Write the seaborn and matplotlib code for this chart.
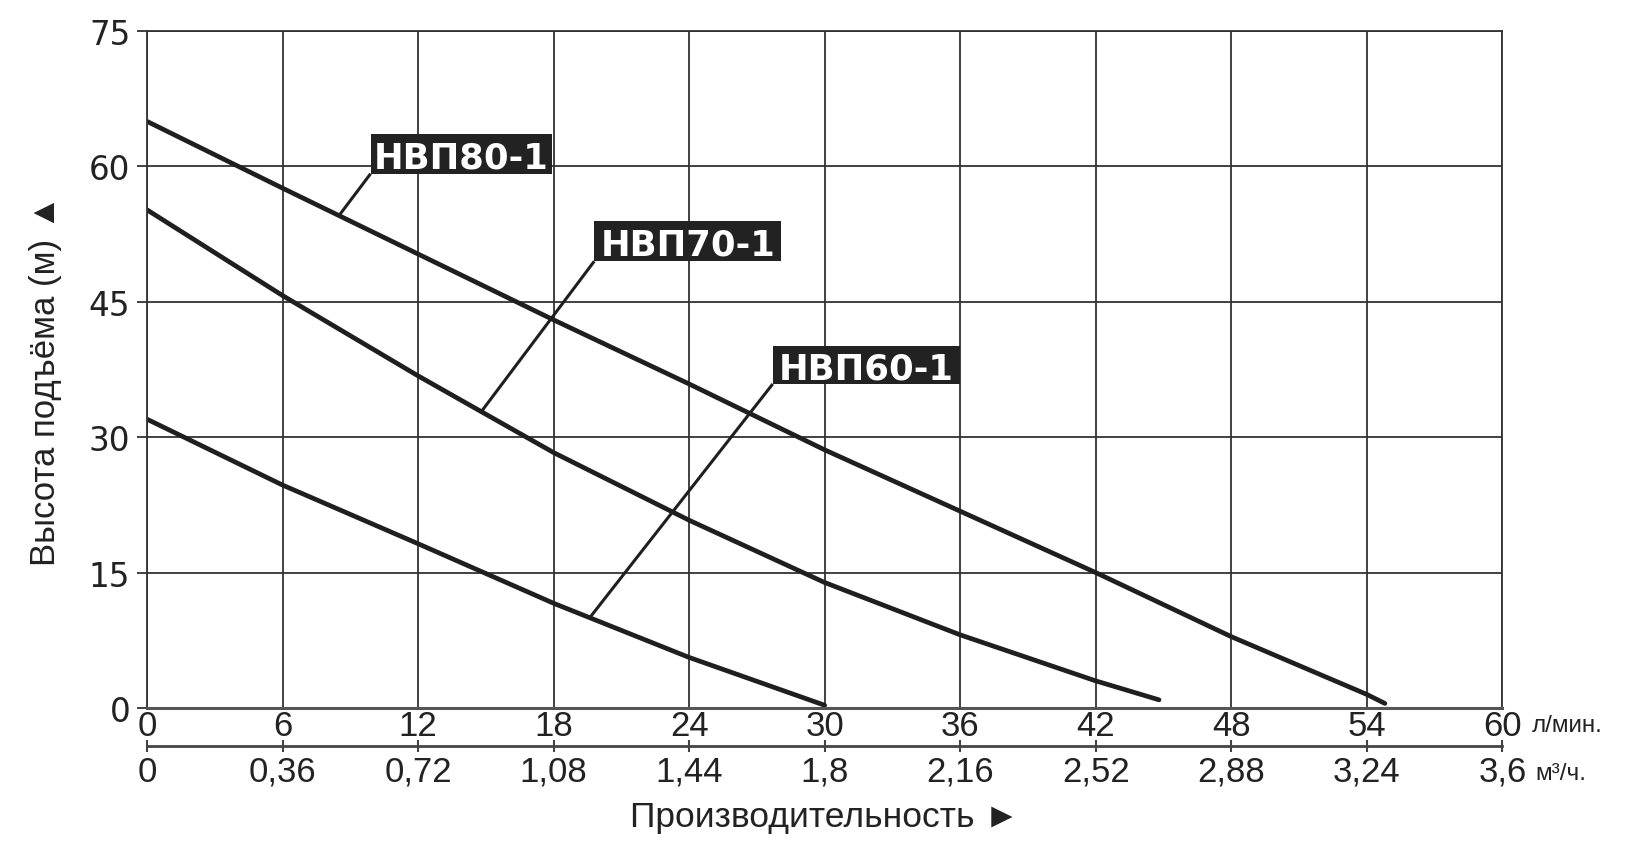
import numpy as np
import pandas as pd
import matplotlib
matplotlib.use("Agg")
import matplotlib.pyplot as plt
from matplotlib.patches import Rectangle
import seaborn as sns

# ---- data ----
pumps = ["НВП80-1", "НВП70-1", "НВП60-1"]
flow80 = [0, 6, 12, 18, 24, 30, 36, 42, 48, 54, 54.8]
head80 = [65.0, 57.6, 50.3, 43.0, 35.9, 28.6, 21.8, 15.0, 7.9, 1.5, 0.5]
flow70 = [0, 6, 12, 18, 24, 30, 36, 42, 44.8]
head70 = [55.2, 45.7, 36.8, 28.3, 20.8, 13.9, 8.1, 3.0, 0.9]
flow60 = [0, 6, 12, 18, 24, 30]
head60 = [32.0, 24.7, 18.2, 11.6, 5.6, 0.3]

x_ticks = [0, 6, 12, 18, 24, 30, 36, 42, 48, 54, 60]
x_tick_labels = ["0", "6", "12", "18", "24", "30", "36", "42", "48", "54", "60"]
m3_ticks = [0, 0.36, 0.72, 1.08, 1.44, 1.8, 2.16, 2.52, 2.88, 3.24, 3.6]
m3_tick_labels = ["0", "0,36", "0,72", "1,08", "1,44", "1,8", "2,16", "2,52", "2,88", "3,24", "3,6"]
y_ticks = [0, 15, 30, 45, 60, 75]
y_tick_labels = ["0", "15", "30", "45", "60", "75"]

df = pd.concat([
    pd.DataFrame({"flow": flow80, "head": head80, "pump": pumps[0]}),
    pd.DataFrame({"flow": flow70, "head": head70, "pump": pumps[1]}),
    pd.DataFrame({"flow": flow60, "head": head60, "pump": pumps[2]}),
], ignore_index=True)

sns.set_theme(style="white")
plt.rcParams["font.family"] = ["Liberation Sans", "DejaVu Sans"]

ink = "#1f1f1f"
fig = plt.figure(figsize=(16.33, 8.45), dpi=100)
ax = fig.add_axes([0.090, 0.161, 0.830, 0.801])

sns.lineplot(data=df, x="flow", y="head", hue="pump", palette=[ink] * 3,
             legend=False, ax=ax, lw=3.4, sort=False, estimator=None)

ax.set_xlim(0, 60)
ax.set_ylim(0, 75)
ax.set_xticks(x_ticks)
ax.set_xticklabels(x_tick_labels, fontsize=25, color="#222")
ax.set_yticks(y_ticks)
ax.set_yticklabels(y_tick_labels, fontsize=23.5, color="#222", family=["DejaVu Sans"])
ax.grid(True, color="#333333", lw=1.3)
ax.set_axisbelow(True)
for s in ["top", "right", "left"]:
    ax.spines[s].set_color("#333333")
    ax.spines[s].set_linewidth(1.3)
ax.spines["bottom"].set_color("#555555")
ax.spines["bottom"].set_linewidth(2.2)
ax.tick_params(axis="x", length=0, pad=1)
ax.tick_params(axis="y", length=7, width=1.3, color="#333333", pad=5, direction="out", left=True)

# secondary axis in m3/h
sec = ax.secondary_xaxis(-0.056, functions=(lambda v: v * 0.06, lambda v: v / 0.06))
sec.set_xticks(m3_ticks)
sec.set_xticklabels(m3_tick_labels, fontsize=25, color="#222")
sec.spines["bottom"].set_color("#444444")
sec.spines["bottom"].set_linewidth(2.0)
sec.tick_params(axis="x", direction="inout", length=9, width=1.5, color="#444444", pad=2)

ax.text(1.0215, -0.025, "л/мин.", transform=ax.transAxes, fontsize=17.5,
        ha="left", va="center", color="#222")
ax.text(1.0245, -0.096, "м³/ч.", transform=ax.transAxes, fontsize=17.5,
        ha="left", va="center", color="#222")

ax.set_xlabel("Производительность ►", fontsize=25.5, color="#222")
ax.xaxis.label.set_va("center")
ax.xaxis.set_label_coords(0.5, -0.161)
ax.set_ylabel("Высота подъёма (м) ▲", fontsize=25, color="#222")
ax.yaxis.label.set_va("center")
ax.yaxis.set_label_coords(-0.0745, 0.485)

# label boxes with leader lines
series = {pumps[0]: (flow80, head80), pumps[1]: (flow70, head70), pumps[2]: (flow60, head60)}
boxes = {
    pumps[0]: ((9.9, 59.2), 8.05, 4.4, 8.5),
    pumps[1]: ((19.8, 49.5), 8.27, 4.5, 14.8),
    pumps[2]: ((27.7, 35.9), 8.30, 4.2, 19.6),
}
for name, ((bx, by), bw, bh, px) in boxes.items():
    fx, hy = series[name]
    py = float(np.interp(px, fx, hy))
    ax.plot([bx, px], [by, py], color=ink, lw=2.2, solid_capstyle="butt", zorder=4)
    ax.add_patch(Rectangle((bx, by), bw, bh, facecolor="#222222", edgecolor="none", zorder=5))
    ax.text(bx + bw / 2, by + bh / 2, name, color="white", fontsize=25.5, fontweight="bold",
            family=["DejaVu Sans"], ha="center", va="center_baseline", zorder=6)

fig.savefig("out.png", dpi=100, facecolor="white")
